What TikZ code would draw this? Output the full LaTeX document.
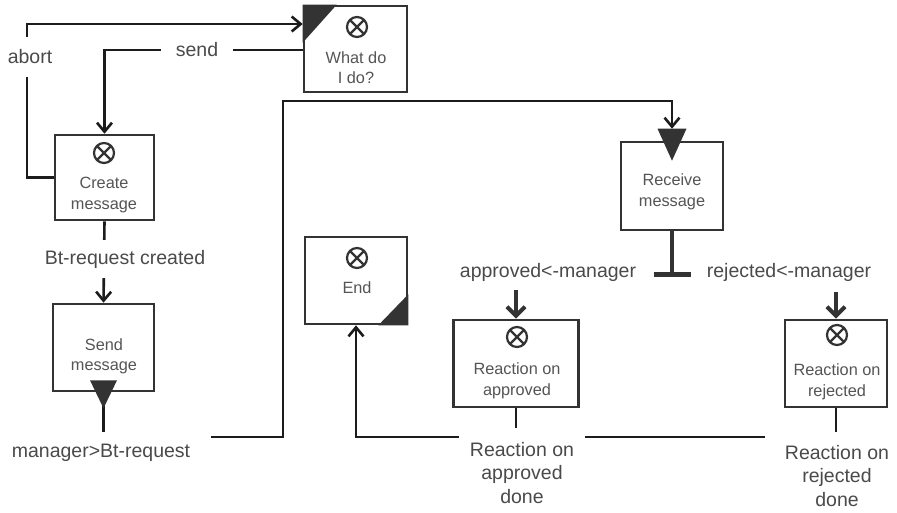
\documentclass[tikz,border=0pt]{standalone}
\usepackage{fontspec}
\setmainfont{Liberation Sans}
\usetikzlibrary{arrows.meta,calc}
\definecolor{boxc}{HTML}{333333}
\definecolor{linec}{HTML}{1C1C1C}
\definecolor{txtc}{HTML}{555555}
\definecolor{lblc}{HTML}{4A4A4A}
\begin{document}
\begin{tikzpicture}[x=1pt,y=-1pt,
  box/.style={draw=boxc, line width=2.6pt, inner sep=0pt, fill=white},
  btext/.style={text=txtc, font=\fontsize{16.3}{20.5}\selectfont, align=center, inner sep=0pt},
  lbl/.style={text=lblc, font=\fontsize{19.5}{23.5}\selectfont, align=center, fill=white, inner xsep=9pt, inner ysep=6pt},
  conn/.style={draw=linec, line width=2.6pt},
  arr/.style={conn, -{Straight Barb[length=9pt,width=15pt]}},
  heavy/.style={draw=boxc, line width=4.2pt, -{Straight Barb[length=9pt,width=18pt]}},
  tri/.style={fill=boxc, draw=none},
  cx/.pic={\draw[line width=2.2pt, draw=boxc] (0,0) circle (10pt) (-7,-7)--(7,7) (-7,7)--(7,-7);}
]
\useasboundingbox (0,0) rectangle (897,512);

% boxes
\node[box, minimum width=103pt, minimum height=86pt] (whatdo) at (355.5,49) {};
\node[box, minimum width=99pt, minimum height=85pt] (create) at (104.5,177.5) {};
\node[box, minimum width=101pt, minimum height=87pt] (sendm) at (103.5,347.5) {};
\node[box, minimum width=102pt, minimum height=88pt] (receive) at (672,186) {};
\node[box, minimum width=102pt, minimum height=87pt] (endb) at (356,280.5) {};
\node[box, minimum width=125pt, minimum height=87pt] (reactA) at (516,363.5) {};
\node[box, minimum width=102pt, minimum height=87pt] (reactR) at (836,363.5) {};

% coordinates
\coordinate (abortX) at (27,24);
\coordinate (sendX) at (104,50);
\coordinate (mgrStub) at (103.5,432);
\coordinate (mgrA) at (211,437);
\coordinate (topY) at (283,101);
\coordinate (tee) at (672,274);
\coordinate (aIn) at (516,290);
\coordinate (rIn) at (836,292);
\coordinate (aStub) at (516,428);
\coordinate (rStub) at (836,432);
\coordinate (retA) at (765,437);

% connectors
\draw[arr] (create.west) -| (abortX) -- (abortX -| whatdo.west);
\draw[arr] (whatdo.west |- sendX) -| (create.north);
\draw[arr] (create.south) -- (sendm.north);
\draw[conn] (sendm.south) -- (mgrStub);
\draw[arr, shorten >=12pt] (mgrA) -| (topY) -| (receive.north);
\draw[draw=boxc, line width=3.4pt] (receive.south) -- (tee);
\draw[draw=boxc, line width=5pt] ($(tee)+(-18,0)$) -- ($(tee)+(19,0)$);
\draw[heavy] (aIn) -- (reactA.north);
\draw[heavy] (rIn) -- (reactR.north);
\draw[conn] (reactA.south) -- (aStub);
\draw[conn] (reactR.south) -- (rStub);
\draw[arr] (retA) -| (endb.south);

% corner / event triangles
\fill[tri] (whatdo.north west) -- ++(34,0) -- ++(-34,38) -- cycle;
\fill[tri] ($(sendm.south)+(-13.5,-12)$) -- ++(27,0) -- ++(-13.5,28) -- cycle;
\fill[tri] ($(receive.north)+(-14.5,-12)$) -- ++(29,0) -- ++(-14.5,32) -- cycle;
\fill[tri] (endb.south east) -- ++(-30,0) -- ++(30,-31) -- cycle;

% circle-x symbols
\pic at (357,27) {cx};
\pic at (104,153) {cx};
\pic at (357,258) {cx};
\pic at (517,337) {cx};
\pic at (837,335) {cx};

% box texts
\node[btext] (t1) at (356,67.5) {What do\\I do?};
\node[btext] (t2) at (104,195) {Create\\message};
\node[btext] (t3) at (104,356.5) {Send\\message};
\node[btext] (t4) at (672,192) {Receive\\message};
\node[btext] (t5) at (357,288) {End};
\node[btext] (t6) at (517,381) {Reaction on\\approved};
\node[btext] (t7) at (837,382) {Reaction on\\rejected};

% labels
\node[lbl, inner ysep=13pt] (labort) at (30,57) {abort};
\node[lbl, inner xsep=15pt] (lsend) at (197,50) {send};
\node[lbl, inner ysep=10pt] (lbtc) at (125,259) {Bt-request created};
\node[lbl] (lmgr) at (101,453) {manager>Bt-request};
\node[lbl, fill=none] (lappr) at (548,272) {approved<-manager};
\node[lbl, fill=none] (lrej) at (789,272) {rejected<-manager};
\node[lbl, inner xsep=11pt] (lrad) at (522,473) {Reaction on\\approved\\done};
\node[lbl] (lrrd) at (837,476) {Reaction on\\rejected\\done};
\end{tikzpicture}
\end{document}
